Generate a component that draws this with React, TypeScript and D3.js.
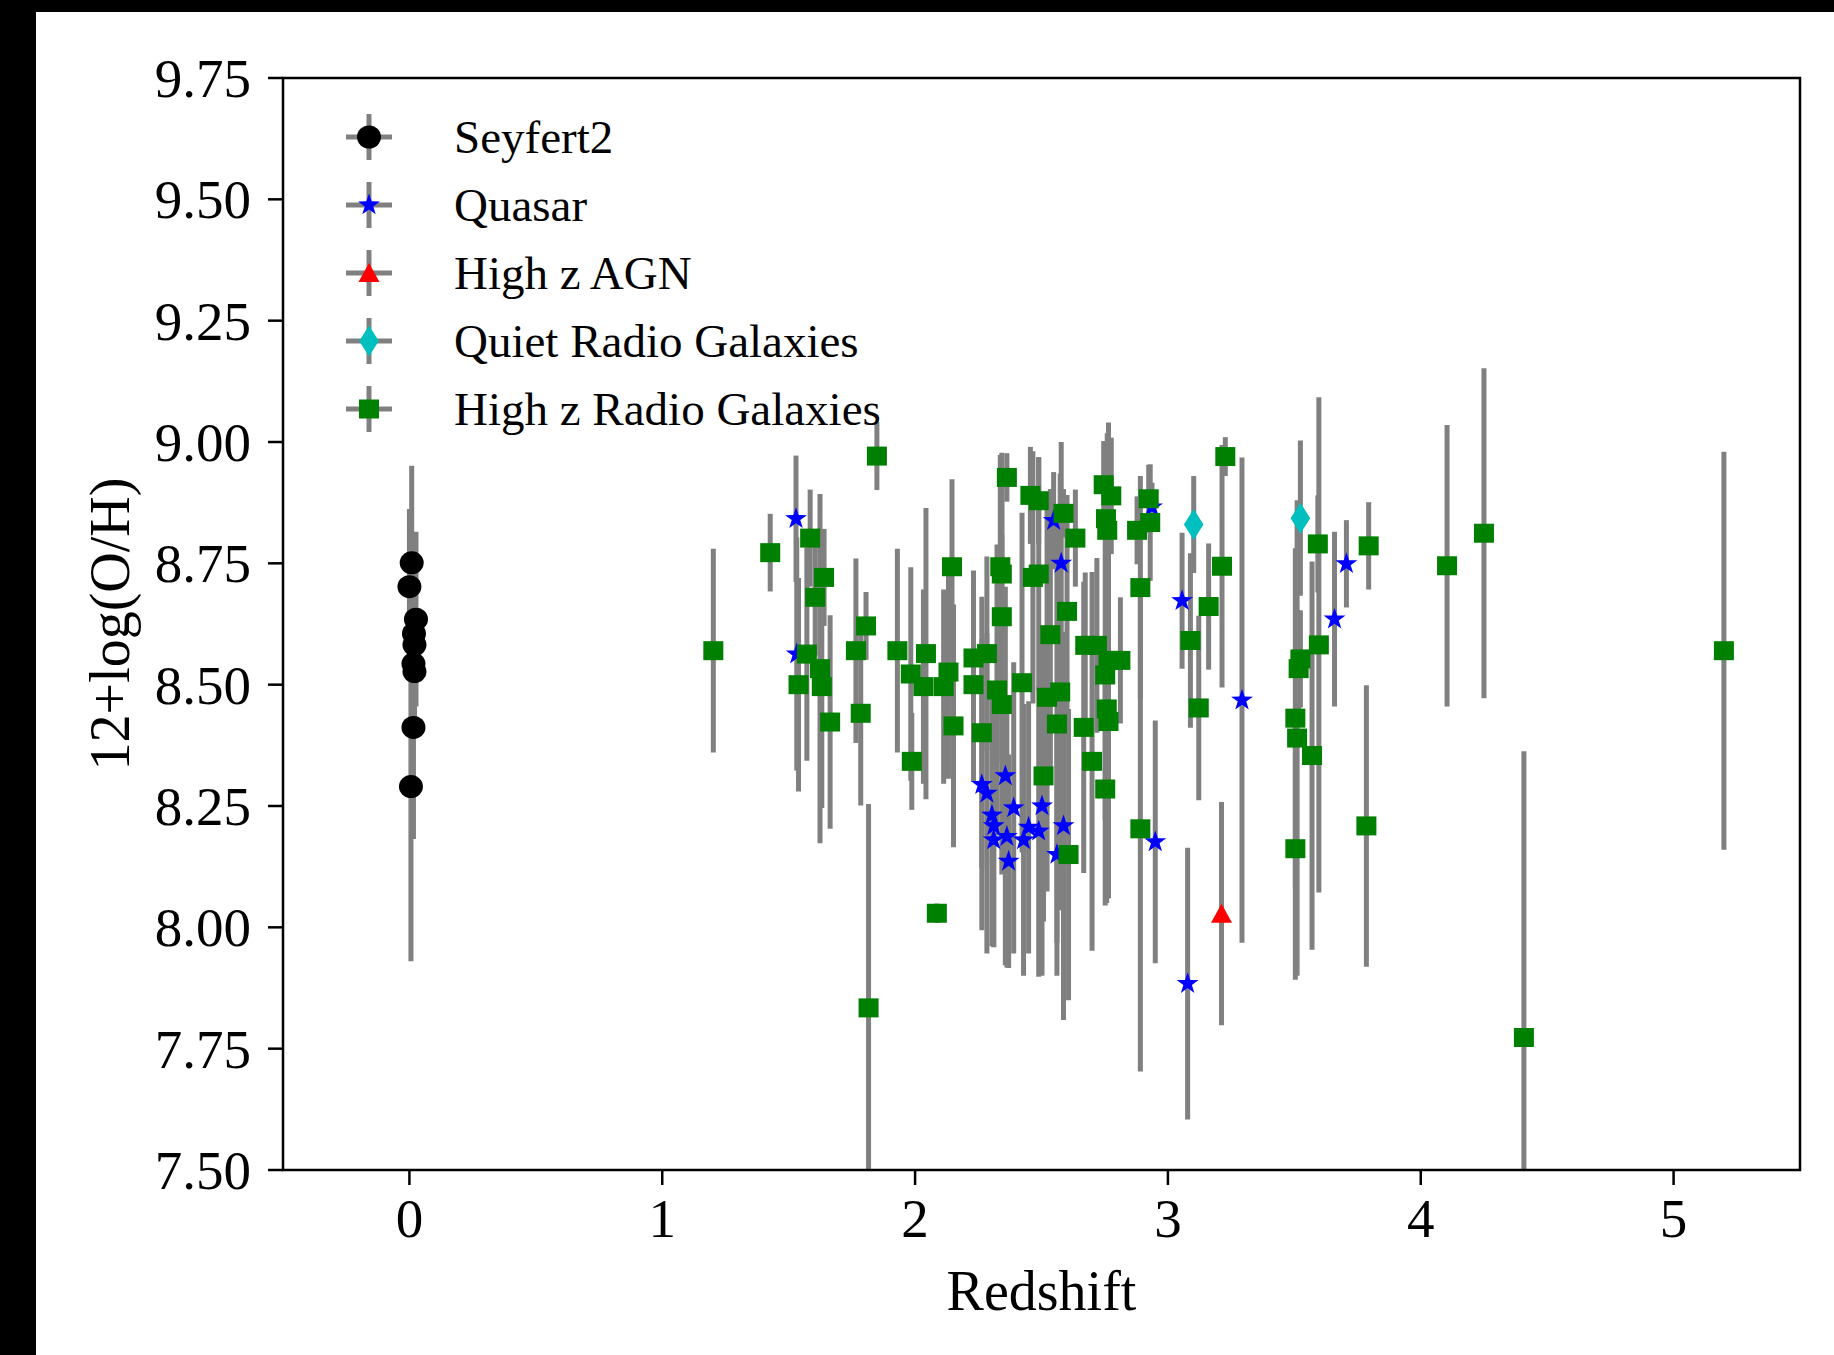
import React from 'react';
import * as d3 from 'd3';

// ---------- data ----------
const seyZ = [0.009, 0.0, 0.026, 0.018, 0.02, 0.016, 0.02, 0.016, 0.006];
const seyOH = [8.751, 8.702, 8.635, 8.605, 8.582, 8.543, 8.527, 8.412, 8.29];
const seyErr = [0.2, 0.16, 0.18, 0.1, 0.1, 0.12, 0.1, 0.23, 0.36];

const qsoZ = [1.529, 1.532, 2.548, 2.578, 2.357, 2.264, 2.284, 2.39, 2.502, 2.304, 2.311, 2.449, 2.489, 2.587, 2.363, 2.311, 2.429, 2.37, 2.561, 2.937, 3.056, 3.293, 2.95, 3.078, 3.706, 3.659];
const qsoOH = [8.842, 8.563, 8.838, 8.75, 8.312, 8.294, 8.276, 8.246, 8.25, 8.231, 8.209, 8.206, 8.198, 8.209, 8.187, 8.18, 8.18, 8.136, 8.15, 8.866, 8.673, 8.468, 8.176, 7.884, 8.749, 8.635];
const qsoErr = [0.13, 0.24, 0.1, 0.25, 0.39, 0.3, 0.33, 0.3, 0.35, 0.27, 0.25, 0.26, 0.3, 0.4, 0.27, 0.22, 0.28, 0.22, 0.25, 0.05, 0.14, 0.5, 0.25, 0.28, 0.09, 0.18];

const agnZ = [3.212];
const agnOH = [8.028];
const agnErr = [0.23];

const qrgZ = [3.102, 3.524];
const qrgOH = [8.83, 8.843];
const qrgErr = [0.1, 0.16];

const hzrgZ = [
  1.202, 1.427, 1.585, 1.64, 1.605, 1.572, 1.624, 1.539, 1.631, 1.664,
  1.806, 1.766, 1.785, 1.849, 1.93, 2.043, 1.983, 2.146, 2.033, 2.113,
  2.132, 1.987, 2.152, 2.086, 1.816,
  2.363, 2.456, 2.489, 2.587, 2.634, 2.337, 2.343, 2.489, 2.466, 2.343,
  2.601, 2.535, 2.673, 2.719, 2.231, 2.284, 2.231, 2.324, 2.423, 2.343,
  2.522, 2.574, 2.561, 2.264, 2.667, 2.7, 2.508, 2.607,
  2.746, 2.776, 2.755, 2.76, 2.765, 2.812, 2.752, 2.758, 2.765, 2.752,
  2.924, 2.878, 2.93, 3.227, 2.891, 3.161, 3.214, 3.089, 3.122, 2.891,
  3.593, 3.597, 3.794, 3.524, 3.517, 3.504, 3.511, 3.57, 3.504, 3.785,
  4.104, 4.25, 4.408, 5.199,
];
const hzrgOH = [
  8.57, 8.772, 8.802, 8.721, 8.68, 8.563, 8.533, 8.5, 8.496, 8.423,
  8.621, 8.57, 8.441, 8.971, 8.57, 8.564, 8.522, 8.743, 8.496, 8.496,
  8.526, 8.342, 8.415, 8.029, 7.834,
  8.927, 8.89, 8.879, 8.853, 8.802, 8.743, 8.728, 8.728, 8.721, 8.64,
  8.651, 8.603, 8.581, 8.581, 8.555, 8.564, 8.5, 8.489, 8.504, 8.459,
  8.474, 8.485, 8.419, 8.401, 8.412, 8.342, 8.312, 8.15,
  8.912, 8.889, 8.842, 8.818, 8.55, 8.55, 8.52, 8.45, 8.424, 8.285,
  8.883, 8.818, 8.834, 8.97, 8.7, 8.661, 8.744, 8.591, 8.452, 8.203,
  8.79, 8.582, 8.786, 8.553, 8.533, 8.431, 8.39, 8.354, 8.162, 8.209,
  8.745, 8.812, 7.773, 8.57,
];
const hzrgErr = [
  0.21, 0.08, 0.1, 0.1, 0.12, 0.22, 0.36, 0.22, 0.25, 0.22,
  0.07, 0.19, 0.19, 0.07, 0.21, 0.3, 0.22, 0.18, 0.2, 0.2,
  0.22, 0.1, 0.25, 0.02, 0.42,
  0.05, 0.1, 0.09, 0.05, 0.1, 0.23, 0.25, 0.24, 0.26, 0.3,
  0.24, 0.3, 0.15, 0.18, 0.18, 0.2, 0.2, 0.3, 0.35, 0.35,
  0.4, 0.45, 0.45, 0.28, 0.3, 0.39, 0.3, 0.3,
  0.09, 0.12, 0.15, 0.2, 0.49, 0.13, 0.3, 0.4, 0.35, 0.24,
  0.07, 0.07, 0.12, 0.04, 0.23, 0.13, 0.25, 0.18, 0.19, 0.5,
  0.1, 0.51, 0.09, 0.1, 0.12, 0.35, 0.49, 0.4, 0.27, 0.29,
  0.29, 0.34, 0.59, 0.41,
];

const legendLabels = ['Seyfert2', 'Quasar', 'High z AGN', 'Quiet Radio Galaxies', 'High z Radio Galaxies'];
const yTicks = [7.5, 7.75, 8.0, 8.25, 8.5, 8.75, 9.0, 9.25, 9.5, 9.75];
const xTicks = [0, 1, 2, 3, 4, 5];

// ---------- layout ----------
const W = 1834, H = 1355;
const PL = 283, PR = 1800, PT = 78, PB = 1170;
const FONT = '"Liberation Serif", "Times New Roman", serif';
const ERR_COLOR = '#808080';

const x = d3.scaleLinear().domain([-0.5, 5.5]).range([PL, PR]);
const y = d3.scaleLinear().domain([7.5, 9.75]).range([PB, PT]);

function starPath(R: number) {
  const r = R * 0.39;
  const pts: [number, number][] = [];
  for (let i = 0; i < 10; i++) {
    const a = -Math.PI / 2 + (i * Math.PI) / 5;
    const rr = i % 2 === 0 ? R : r;
    pts.push([rr * Math.cos(a), rr * Math.sin(a)]);
  }
  return 'M' + pts.map((p) => p.join(',')).join('L') + 'Z';
}

type Kind = 'circle' | 'star' | 'tri' | 'diamond' | 'square';

function Marker({ kind, cx, cy }: { kind: Kind; cx: number; cy: number }) {
  switch (kind) {
    case 'circle':
      return <ellipse cx={cx} cy={cy} rx={12} ry={11.5} fill="#000" />;
    case 'star':
      return <path d={starPath(11.5)} transform={`translate(${cx},${cy})`} fill="#0000ff" />;
    case 'tri':
      return <path d="M0,-10L10.5,9L-10.5,9Z" transform={`translate(${cx},${cy})`} fill="#ff0000" />;
    case 'diamond':
      return <path d="M0,-15.5L9.8,0L0,15.5L-9.8,0Z" transform={`translate(${cx},${cy})`} fill="#00bfbf" />;
    default:
      return <rect x={cx - 10} y={cy - 9.5} width={20} height={19} fill="#008000" />;
  }
}

const series: { z: number[]; oh: number[]; err: number[]; kind: Kind }[] = [
  { z: seyZ, oh: seyOH, err: seyErr, kind: 'circle' },
  { z: qsoZ, oh: qsoOH, err: qsoErr, kind: 'star' },
  { z: agnZ, oh: agnOH, err: agnErr, kind: 'tri' },
  { z: qrgZ, oh: qrgOH, err: qrgErr, kind: 'diamond' },
  { z: hzrgZ, oh: hzrgOH, err: hzrgErr, kind: 'square' },
];

export default function App() {
  const fmt = d3.format('.2f');
  return (
    <svg
      width={W}
      height={H}
      style={{ position: 'absolute', left: 0, top: 0, display: 'block' }}
      fontFamily={FONT}
    >
      <rect x={0} y={0} width={W} height={H} fill="#000" />
      <rect x={36} y={12} width={W - 36} height={H - 12} fill="#fff" />
      <defs>
        <clipPath id="plotClip">
          <rect x={PL} y={PT} width={PR - PL} height={PB - PT} />
        </clipPath>
      </defs>

      {/* error bars */}
      <g clipPath="url(#plotClip)">
        {series.map((s, si) =>
          s.z.map((z, i) => (
            <line
              key={`e${si}-${i}`}
              x1={x(z)}
              x2={x(z)}
              y1={y(s.oh[i] + s.err[i])}
              y2={y(s.oh[i] - s.err[i])}
              stroke={ERR_COLOR}
              strokeWidth={5}
            />
          ))
        )}
      </g>
      {/* markers */}
      <g clipPath="url(#plotClip)">
        {series.map((s, si) =>
          s.z.map((z, i) => <Marker key={`m${si}-${i}`} kind={s.kind} cx={x(z)} cy={y(s.oh[i])} />)
        )}
      </g>

      {/* frame */}
      <rect x={PL} y={PT} width={PR - PL} height={PB - PT} fill="none" stroke="#000" strokeWidth={2.5} />

      {/* y ticks */}
      {yTicks.map((t) => (
        <g key={`yt${t}`}>
          <line x1={PL - 15} x2={PL} y1={y(t)} y2={y(t)} stroke="#000" strokeWidth={2.5} />
          <text x={251} y={y(t) + 19} fontSize={55} textAnchor="end" fill="#000">
            {fmt(t)}
          </text>
        </g>
      ))}
      {/* x ticks */}
      {xTicks.map((t) => (
        <g key={`xt${t}`}>
          <line x1={x(t)} x2={x(t)} y1={PB} y2={PB + 15} stroke="#000" strokeWidth={2.5} />
          <text x={x(t)} y={PB + 67} fontSize={55} textAnchor="middle" fill="#000">
            {t}
          </text>
        </g>
      ))}

      {/* axis labels */}
      <text x={(PL + PR) / 2} y={1310} fontSize={56} textAnchor="middle" fill="#000">
        Redshift
      </text>
      <text
        transform={`translate(129,${(PT + PB) / 2}) rotate(-90)`}
        fontSize={56}
        textAnchor="middle"
        fill="#000"
      >
        12+log(O/H)
      </text>

      {/* legend */}
      {legendLabels.map((lab, i) => {
        const cy = 137 + i * 68;
        const cx = 369;
        return (
          <g key={lab}>
            <line x1={cx - 23} x2={cx + 23} y1={cy} y2={cy} stroke={ERR_COLOR} strokeWidth={5} />
            <line x1={cx} x2={cx} y1={cy - 23} y2={cy + 23} stroke={ERR_COLOR} strokeWidth={5} />
            <Marker kind={series[i].kind} cx={cx} cy={cy} />
            <text x={454} y={cy + 16} fontSize={47} fill="#000">
              {lab}
            </text>
          </g>
        );
      })}
    </svg>
  );
}
